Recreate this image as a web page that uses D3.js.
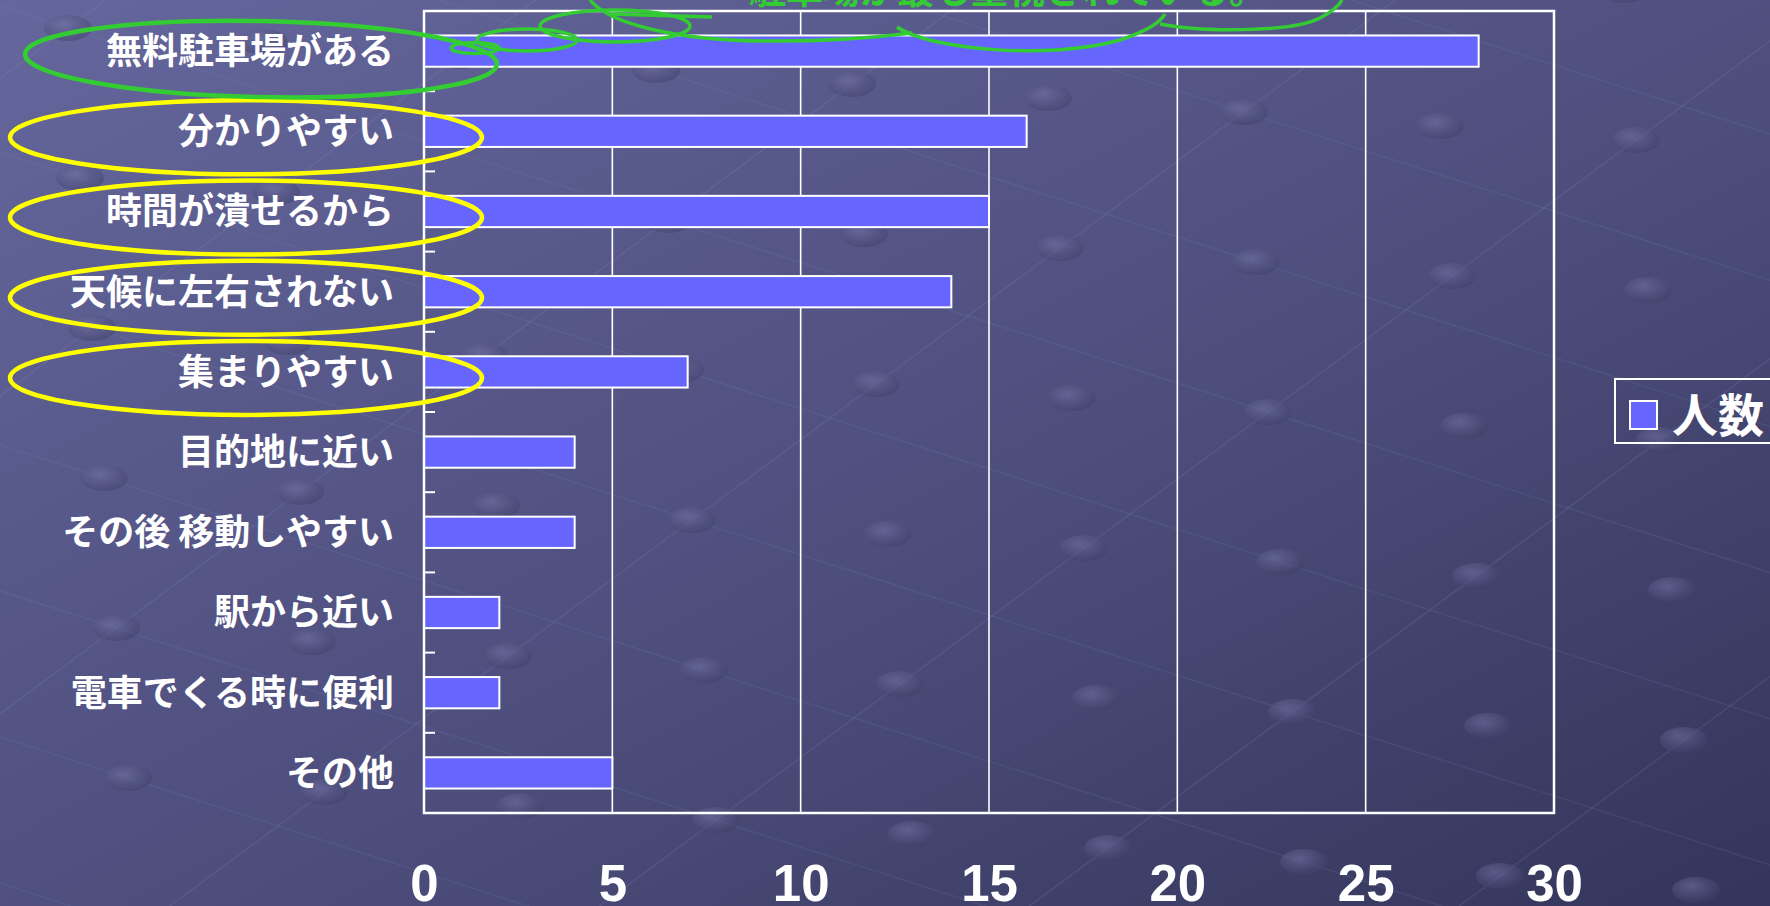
<!DOCTYPE html>
<html><head><meta charset="utf-8">
<script src="https://cdn.jsdelivr.net/npm/d3@7"></script>
<style>
html,body{margin:0;padding:0;background:#4a4a72;overflow:hidden;}
svg{display:block;}
</style></head>
<body>
<script>
// ---- data ----
const categories = ["無料駐車場がある","分かりやすい","時間が潰せるから","天候に左右されない","集まりやすい","目的地に近い","その後 移動しやすい","駅から近い","電車でくる時に便利","その他"];
const values = [28,16,15,14,7,4,4,2,2,5];
const xTicks = [0,5,10,15,20,25,30];
const seriesName = "人数";
const greenMarked = ["無料駐車場がある"];
const yellowMarked = ["分かりやすい","時間が潰せるから","天候に左右されない","集まりやすい"];
const noteText = "駐車場が最も重視されている。";

const W = 1770, H = 906;
const plot = {left:424, right:1554, top:11, bottom:813};

const svg = d3.select("body").append("svg").attr("width",W).attr("height",H);
const defs = svg.append("defs");
const grad = defs.append("linearGradient").attr("id","bg").attr("x1",0).attr("y1",0).attr("x2",1).attr("y2",1);
grad.append("stop").attr("offset","0%").attr("stop-color","#65669c");
grad.append("stop").attr("offset","55%").attr("stop-color","#4d4e7c");
grad.append("stop").attr("offset","100%").attr("stop-color","#34355a");
const sg = defs.append("radialGradient").attr("id","sph").attr("cx","40%").attr("cy","35%").attr("r","70%");
sg.append("stop").attr("offset","0%").attr("stop-color","#7576a8").attr("stop-opacity",0.55);
sg.append("stop").attr("offset","100%").attr("stop-color","#3a3b62").attr("stop-opacity",0.45);

svg.append("rect").attr("width",W).attr("height",H).attr("fill","url(#bg)");

// decorative background lattice
const deco = svg.append("g");
const a = [46,-34], b = [150,48], o = [-300,300];
const pts = [];
for (let i=-10;i<40;i++) for (let j=-10;j<20;j++){
  const px = o[0]+i*a[0]+j*b[0], py = o[1]+i*a[1]+j*b[1];
  if (px>-60 && px<W+60 && py>-40 && py<H+40 && ((i*3+j*5)%4===0)) pts.push([px,py]);
}
for (let j=-10;j<20;j+=1){
  if ((j%2)!==0) continue;
  deco.append("line").attr("x1",o[0]-20*a[0]+j*b[0]).attr("y1",o[1]-20*a[1]+j*b[1])
    .attr("x2",o[0]+40*a[0]+j*b[0]).attr("y2",o[1]+40*a[1]+j*b[1])
    .attr("stroke","#8a8bc0").attr("stroke-opacity",0.18).attr("stroke-width",1.5);
}
for (let i=-10;i<40;i+=3){
  deco.append("line").attr("x1",o[0]+i*a[0]-10*b[0]).attr("y1",o[1]+i*a[1]-10*b[1])
    .attr("x2",o[0]+i*a[0]+20*b[0]).attr("y2",o[1]+i*a[1]+20*b[1])
    .attr("stroke","#8a8bc0").attr("stroke-opacity",0.14).attr("stroke-width",1.5);
}
deco.selectAll("ellipse").data(pts).join("ellipse")
  .attr("cx",d=>d[0]).attr("cy",d=>d[1]).attr("rx",24).attr("ry",13).attr("fill","url(#sph)");

// scales
const x = d3.scaleLinear().domain([0,30]).range([plot.left,plot.right]);
const y = d3.scaleBand().domain(categories).range([plot.top,plot.bottom]).paddingInner(0.61).paddingOuter(0.305);
const gap = (y.step()-y.bandwidth())/2;

// gridlines
svg.append("g").selectAll("line").data(xTicks.filter(t=>t>0 && t<30)).join("line")
  .attr("x1",d=>x(d)).attr("x2",d=>x(d)).attr("y1",plot.top).attr("y2",plot.bottom)
  .attr("stroke","#ffffff").attr("stroke-width",1.6);

// bars
svg.append("g").selectAll("rect").data(values).join("rect")
  .attr("x",x(0)).attr("y",(d,i)=>y(categories[i]))
  .attr("width",d=>x(d)-x(0)).attr("height",y.bandwidth())
  .attr("fill","#6666ff").attr("stroke","#ffffff").attr("stroke-width",2);

// plot border
svg.append("rect").attr("x",plot.left).attr("y",plot.top)
  .attr("width",plot.right-plot.left).attr("height",plot.bottom-plot.top)
  .attr("fill","none").attr("stroke","#ffffff").attr("stroke-width",2.5);

// category tick marks (inward) at band boundaries
svg.append("g").selectAll("line").data(categories.slice(1)).join("line")
  .attr("x1",plot.left).attr("x2",plot.left+11)
  .attr("y1",d=>y(d)-gap).attr("y2",d=>y(d)-gap)
  .attr("stroke","#ffffff").attr("stroke-width",2);

// y axis labels
const yAxis = svg.append("g").attr("transform",`translate(${plot.left},0)`)
  .call(d3.axisLeft(y).tickSize(0).tickPadding(30));
yAxis.select(".domain").remove();
yAxis.selectAll("text").attr("fill","#ffffff")
  .style("font-family","'Noto Sans CJK JP','Noto Sans',sans-serif")
  .style("font-size","36px").style("font-weight","700").attr("dy","0.36em");

// x axis labels
const xAxis = svg.append("g").attr("transform","translate(0,901)")
  .call(d3.axisBottom(x).tickValues(xTicks).tickSize(0).tickPadding(0));
xAxis.select(".domain").remove();
xAxis.selectAll("text").attr("y",0).attr("dy",0).attr("fill","#ffffff")
  .style("font-family","'Liberation Sans',Arial,sans-serif")
  .style("font-size","51px").style("font-weight","700");

// legend
const lg = svg.append("g");
lg.append("rect").attr("x",1615).attr("y",379).attr("width",200).attr("height",64)
  .attr("fill","none").attr("stroke","#ffffff").attr("stroke-width",2);
lg.append("rect").attr("x",1630).attr("y",401).attr("width",27).attr("height",28)
  .attr("fill","#6666ff").attr("stroke","#ffffff").attr("stroke-width",2);
lg.append("text").attr("x",1672).attr("y",415).attr("dy","0.36em").text(seriesName)
  .attr("fill","#ffffff").style("font-family","'Noto Sans CJK JP',sans-serif")
  .style("font-size","46px").style("font-weight","700");

// annotations
const ann = svg.append("g").attr("fill","none");
ann.selectAll("ellipse.y").data(yellowMarked).join("ellipse").attr("class","y")
  .attr("cx",246).attr("cy",d=>y(d)+y.bandwidth()/2+6).attr("rx",236).attr("ry",37)
  .attr("stroke","#ffff00").attr("stroke-width",4.5);
ann.selectAll("ellipse.g").data(greenMarked).join("ellipse").attr("class","g")
  .attr("transform",d=>`rotate(1.2 261 ${y(d)+y.bandwidth()/2+8})`)
  .attr("cx",261).attr("cy",d=>y(d)+y.bandwidth()/2+8).attr("rx",236).attr("ry",38)
  .attr("stroke","#33cc33").attr("stroke-width",4.5);
const bubbles = [[475,48,24,5.5],[527,40,50,11],[615,26,75,16]];
ann.selectAll("ellipse.b").data(bubbles).join("ellipse").attr("class","b")
  .attr("cx",d=>d[0]).attr("cy",d=>d[1]).attr("rx",d=>d[2]).attr("ry",d=>d[3])
  .attr("stroke","#33cc33").attr("stroke-width",3.5);
const cloud = [
  "M590,0 C610,25 680,40 760,41 C830,42 880,37 912,33",
  "M897,27 C930,50 1050,60 1120,40 C1150,30 1160,22 1165,14",
  "M1160,24 C1200,32 1290,33 1320,18 C1335,10 1340,4 1342,0",
  "M610,14 L712,17"
];
ann.selectAll("path").data(cloud).join("path").attr("d",d=>d)
  .attr("stroke","#33cc33").attr("stroke-width",3.5);
svg.append("text").attr("x",749).attr("y",4).text(noteText)
  .attr("fill","#33cc33").style("font-family","'Noto Sans CJK JP',sans-serif")
  .style("font-size","37px").style("font-weight","700");
</script>
</body></html>
